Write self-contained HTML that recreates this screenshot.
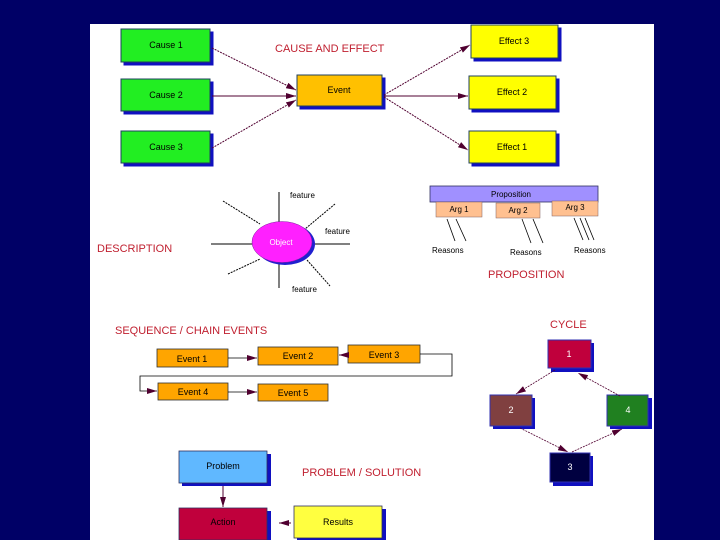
<!DOCTYPE html>
<html><head><style>
html,body{margin:0;padding:0;background:#000066;}
svg{display:block;}
text{font-family:"Liberation Sans",sans-serif;}
</style></head><body>
<svg width="720" height="540" viewBox="0 0 720 540" xmlns="http://www.w3.org/2000/svg">
<defs>
<marker id="a" viewBox="0 0 10 6" refX="10" refY="3" markerWidth="10" markerHeight="6" markerUnits="userSpaceOnUse" orient="auto"><path d="M0,0L10,3L0,6z" fill="#500030"/></marker>
</defs>
<rect x="0" y="0" width="720" height="540" fill="#000066"/>
<rect x="90" y="24" width="564" height="516" fill="#ffffff"/>

<!-- cause and effect -->
<g stroke="#1010c0" fill="#1010c0">
<rect x="124" y="32" width="89" height="33"/><rect x="124" y="82" width="89" height="32"/><rect x="124" y="134" width="89" height="32"/>
<rect x="300" y="78" width="85" height="31"/>
<rect x="474" y="28" width="87" height="33"/><rect x="472" y="79" width="87" height="33"/><rect x="472" y="134" width="87" height="32"/>
</g>
<g stroke="#204060" stroke-width="1">
<rect x="121" y="29" width="89" height="33" fill="#22ee22"/>
<rect x="121" y="79" width="89" height="32" fill="#22ee22"/>
<rect x="121" y="131" width="89" height="32" fill="#22ee22"/>
<rect x="297" y="75" width="85" height="31" fill="#ffc000"/>
<rect x="471" y="25" width="87" height="33" fill="#ffff00"/>
<rect x="469" y="76" width="87" height="33" fill="#ffff00"/>
<rect x="469" y="131" width="87" height="32" fill="#ffff00"/>
</g>
<g font-size="9" fill="#000" text-anchor="middle">
<text x="166" y="48">Cause 1</text><text x="166" y="98">Cause 2</text><text x="166" y="150">Cause 3</text>
<text x="339" y="93">Event</text>
<text x="514" y="44">Effect 3</text><text x="512" y="95">Effect 2</text><text x="512" y="150">Effect 1</text>
</g>
<text x="275" y="52" font-size="11" fill="#c02030">CAUSE AND EFFECT</text>
<g stroke="#500030" stroke-width="1" marker-end="url(#a)">
<line x1="212" y1="48" x2="296" y2="90" stroke-dasharray="2,1"/>
<line x1="212" y1="96" x2="296" y2="96"/>
<line x1="212" y1="148" x2="296" y2="100" stroke-dasharray="2,1"/>
<line x1="384" y1="95" x2="470" y2="45" stroke-dasharray="2,1"/>
<line x1="384" y1="96" x2="468" y2="96"/>
<line x1="384" y1="97" x2="468" y2="150" stroke-dasharray="2,1"/>
</g>

<!-- description -->
<g stroke="#000" stroke-width="1">
<line x1="279" y1="192" x2="279" y2="222"/><line x1="279" y1="263" x2="279" y2="288"/>
<line x1="211" y1="244" x2="252" y2="244"/><line x1="312" y1="244" x2="350" y2="244"/>
<line x1="223" y1="201" x2="260" y2="224" stroke-dasharray="2,1"/>
<line x1="335" y1="204" x2="305" y2="229" stroke-dasharray="2,1"/>
<line x1="228" y1="274" x2="260" y2="259" stroke-dasharray="2,1"/>
<line x1="307" y1="260" x2="330" y2="286" stroke-dasharray="2,1"/>
</g>
<ellipse cx="285" cy="244" rx="30" ry="21" fill="#2020d0"/>
<ellipse cx="282" cy="242" rx="30" ry="20.5" fill="#ff20ff" stroke="#8020a0" stroke-width="0.5"/>
<text x="281" y="245" font-size="8" fill="#fff" text-anchor="middle">Object</text>
<g font-size="8" fill="#000">
<text x="290" y="198">feature</text><text x="325" y="234">feature</text><text x="292" y="292">feature</text>
</g>
<text x="97" y="252" font-size="11" fill="#c02030">DESCRIPTION</text>

<!-- proposition -->
<rect x="430" y="186" width="168" height="16" fill="#a090ff" stroke="#303060" stroke-width="0.8"/>
<text x="511" y="197" font-size="8" text-anchor="middle">Proposition</text>
<g fill="#ffc090" stroke="#806060" stroke-width="0.5">
<rect x="436" y="202" width="46" height="15"/><rect x="496" y="203" width="44" height="15"/><rect x="552" y="201" width="46" height="15"/>
</g>
<g font-size="8" text-anchor="middle"><text x="459" y="212">Arg 1</text><text x="518" y="213">Arg 2</text><text x="575" y="210">Arg 3</text></g>
<g stroke="#000" stroke-width="0.8">
<line x1="447" y1="219" x2="455" y2="241"/><line x1="456" y1="219" x2="466" y2="241"/>
<line x1="522" y1="219" x2="531" y2="243"/><line x1="533" y1="219" x2="543" y2="243"/>
<line x1="574" y1="218" x2="583" y2="240"/><line x1="580" y1="218" x2="589" y2="240"/><line x1="585" y1="218" x2="594" y2="240"/>
</g>
<g font-size="8"><text x="432" y="253">Reasons</text><text x="510" y="255">Reasons</text><text x="574" y="253">Reasons</text></g>
<text x="488" y="278" font-size="11" fill="#c02030">PROPOSITION</text>

<!-- sequence -->
<text x="115" y="334" font-size="11" fill="#c02030">SEQUENCE / CHAIN EVENTS</text>
<g fill="#ffa500" stroke="#303030" stroke-width="0.8">
<rect x="157" y="349" width="71" height="18"/><rect x="258" y="347" width="80" height="18"/><rect x="348" y="345" width="72" height="18"/>
<rect x="158" y="383" width="70" height="17"/><rect x="258" y="384" width="70" height="17"/>
</g>
<g font-size="9" text-anchor="middle">
<text x="192" y="362">Event 1</text><text x="298" y="359">Event 2</text><text x="384" y="358">Event 3</text>
<text x="193" y="395">Event 4</text><text x="293" y="396">Event 5</text>
</g>
<g stroke="#000" stroke-width="0.8" fill="none">
<line x1="228" y1="358" x2="257" y2="358" marker-end="url(#a)"/>
<line x1="346" y1="355" x2="339" y2="355" marker-end="url(#a)"/>
<polyline points="420,354 452,354 452,376 140,376 140,391 157,391" marker-end="url(#a)"/>
<line x1="228" y1="392" x2="257" y2="392" marker-end="url(#a)"/>
</g>

<!-- cycle -->
<text x="550" y="328" font-size="11" fill="#c02030">CYCLE</text>
<g fill="#1010c0">
<rect x="551" y="343" width="43" height="29"/><rect x="493" y="398" width="42" height="31"/><rect x="610" y="398" width="42" height="31"/><rect x="553" y="456" width="40" height="30"/>
</g>
<g stroke="#3030b0" stroke-width="1">
<rect x="548" y="340" width="43" height="28" fill="#c0003c"/>
<rect x="490" y="395" width="42" height="31" fill="#804040"/>
<rect x="607" y="395" width="41" height="31" fill="#208020"/>
<rect x="550" y="453" width="40" height="29" fill="#000040"/>
</g>
<g font-size="9" fill="#fff" text-anchor="middle">
<text x="569" y="357">1</text><text x="511" y="413">2</text><text x="628" y="413">4</text><text x="570" y="470">3</text>
</g>
<g stroke="#500030" stroke-width="0.8" stroke-dasharray="2,1" marker-end="url(#a)">
<line x1="555" y1="370" x2="516" y2="394"/>
<line x1="620" y1="396" x2="578" y2="373"/>
<line x1="520" y1="428" x2="568" y2="452"/>
<line x1="572" y1="452" x2="622" y2="429"/>
</g>

<!-- problem/solution -->
<g fill="#1010c0"><rect x="182" y="454" width="89" height="32"/><rect x="182" y="511" width="89" height="32"/><rect x="297" y="509" width="89" height="32"/></g>
<g stroke="#303060" stroke-width="0.8">
<rect x="179" y="451" width="88" height="32" fill="#60b8ff"/>
<rect x="179" y="508" width="88" height="32" fill="#c0003c"/>
<rect x="294" y="506" width="88" height="32" fill="#ffff40"/>
</g>
<g font-size="9" text-anchor="middle"><text x="223" y="469">Problem</text><text x="223" y="525">Action</text><text x="338" y="525">Results</text></g>
<g stroke="#500030" stroke-width="1" marker-end="url(#a)">
<line x1="223" y1="486" x2="223" y2="507"/>
<line x1="291" y1="523" x2="279" y2="523"/>
</g>
<text x="302" y="476" font-size="11" fill="#c02030">PROBLEM / SOLUTION</text>
</svg>
</body></html>
